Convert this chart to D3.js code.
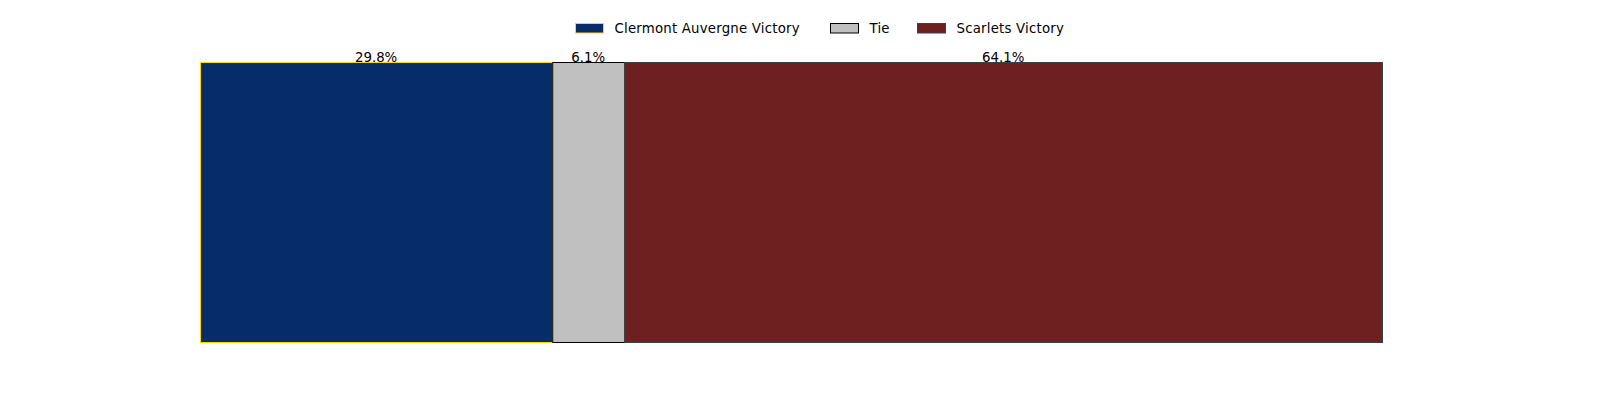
<!DOCTYPE html>
<html>
<head>
<meta charset="utf-8">
<script src="https://cdn.jsdelivr.net/npm/d3@7"></script>
<style>
html,body{margin:0;padding:0;background:#fff;}
svg{display:block;font-family:"DejaVu Sans",sans-serif;}
</style>
</head>
<body>
<svg id="chart" width="1600" height="400"></svg>
<script>
const categories = ["Clermont Auvergne Victory", "Tie", "Scarlets Victory"];
const values = [29.8, 6.1, 64.1];
const labels = ["29.8%", "6.1%", "64.1%"];
const fills = ["#062D69", "#C0C0C0", "#6E1F1F"];
const strokes = ["#FFD700", "#000000", "#3a4148"];

const svg = d3.select("#chart");
const x = d3.scaleLinear().domain([0, 100]).range([200, 1382]);
const y = d3.scaleLinear().domain([0, 1]).range([342, 62]);

const starts = [];
let acc = 0;
values.forEach(v => { starts.push(acc); acc += v; });

const data = categories.map((c, i) => ({c, v: values[i], s: starts[i], label: labels[i], fill: fills[i], stroke: strokes[i]}));

svg.selectAll("rect.bar").data(data).enter().append("rect")
  .attr("class", "bar")
  .attr("x", d => x(d.s) + 0.5)
  .attr("y", y(1) + 0.5)
  .attr("width", d => x(d.s + d.v) - x(d.s))
  .attr("height", y(0) - y(1))
  .attr("fill", d => d.fill)
  .attr("stroke", d => d.stroke)
  .attr("stroke-width", 1);

svg.selectAll("text.lbl").data(data).enter().append("text")
  .attr("class", "lbl")
  .attr("x", d => x(d.s + d.v / 2))
  .attr("y", y(1) - 0.5)
  .attr("text-anchor", "middle")
  .attr("font-size", "13.33px")
  .attr("fill", "#000")
  .text(d => d.label);

// legend (layout positions)
const legendX = [575, 830, 917];
const lg = svg.append("g");
data.forEach((d, i) => {
  const lx = legendX[i];
  lg.append("rect")
    .attr("x", lx + 0.5).attr("y", 23.5)
    .attr("width", 28).attr("height", 9.5)
    .attr("fill", d.fill).attr("stroke", d.stroke).attr("stroke-width", 1);
  lg.append("text")
    .attr("x", lx + 39.5).attr("y", 32.5)
    .attr("font-size", "13.33px").attr("fill", "#000")
    .attr("letter-spacing", "0.2px")
    .text(d.c);
});
</script>
</body>
</html>
